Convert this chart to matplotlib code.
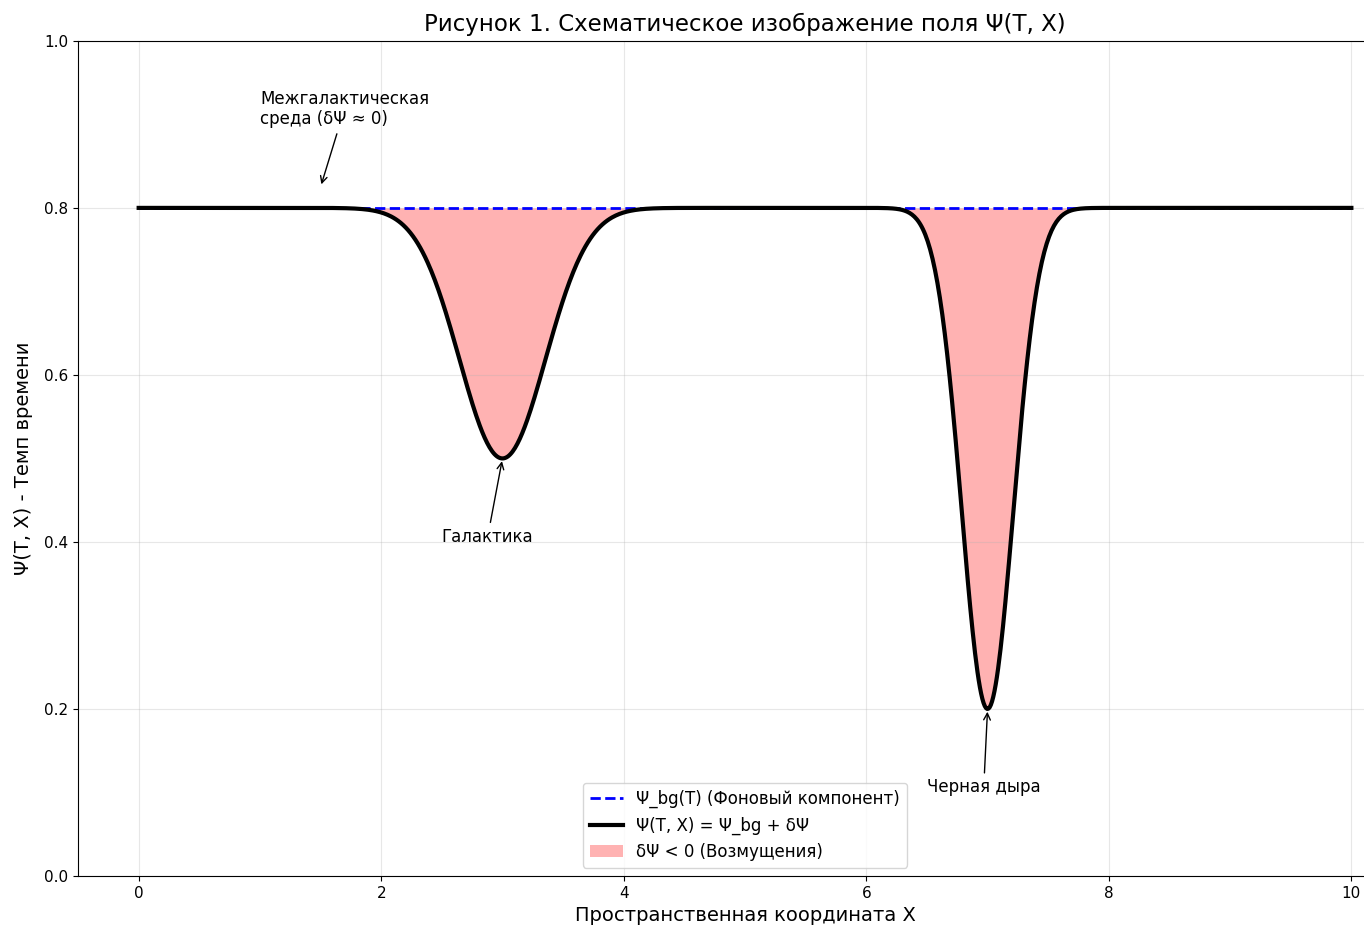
"""Schematic of the field Psi(T, X): flat background with two Gaussian dips."""
import matplotlib
matplotlib.use("Agg")
import matplotlib.pyplot as plt
import numpy as np

# background level and the two perturbations (centre, depth, width)
psi_bg = 0.8
dip_centers = [3.0, 7.0]
dip_depths = [0.3, 0.6]
dip_widths = [0.5, 0.3]
x_range = (0.0, 10.0)

labels = {
    "title": "Рисунок 1. Схематическое изображение поля Ψ(T, X)",
    "xlabel": "Пространственная координата X",
    "ylabel": "Ψ(T, X) - Темп времени",
    "bg": "Ψ_bg(T) (Фоновый компонент)",
    "psi": "Ψ(T, X) = Ψ_bg + δΨ",
    "fill": "δΨ < 0 (Возмущения)",
}
notes = [
    ("Межгалактическая\nсреда (δΨ ≈ 0)", (1.5, 0.825), (1.0, 0.9)),
    ("Галактика", (3.0, 0.5), (2.5, 0.4)),
    ("Черная дыра", (7.0, 0.2), (6.5, 0.1)),
]

x = np.linspace(*x_range, 1000)
bg = np.full_like(x, psi_bg)
dpsi = np.zeros_like(x)
for c, d, w in zip(dip_centers, dip_depths, dip_widths):
    dpsi -= d * np.exp(-((x - c) / w) ** 2)
psi = bg + dpsi

fig = plt.figure(figsize=(13.64, 9.31), dpi=100)
# the original figure was cropped on the right, so the axes runs past the edge
ax = fig.add_axes([0.0572, 0.0591, 0.978, 0.897])
ax.spines["right"].set_visible(False)

ax.plot(x, bg, "b--", linewidth=2, label=labels["bg"])
ax.plot(x, psi, "k-", linewidth=3, label=labels["psi"])
ax.fill_between(x, psi, bg, where=psi < bg, color="red", alpha=0.3,
                linewidth=0, label=labels["fill"])

for text, xy, xytext in notes:
    ax.annotate(text, xy=xy, xytext=xytext, fontsize=12,
                arrowprops=dict(arrowstyle="->", color="black", lw=1))

ax.set_xlim(-0.5, 10.5)
ax.set_ylim(0, 1)
ax.set_title(labels["title"], fontsize=16.5, pad=7)
ax.set_xlabel(labels["xlabel"], fontsize=14)
ax.set_ylabel(labels["ylabel"], fontsize=14, labelpad=8)
ax.tick_params(labelsize=11)
ax.grid(True, alpha=0.3)
ax.legend(loc="lower center", fontsize=12)

fig.savefig("out.png", dpi=100)
